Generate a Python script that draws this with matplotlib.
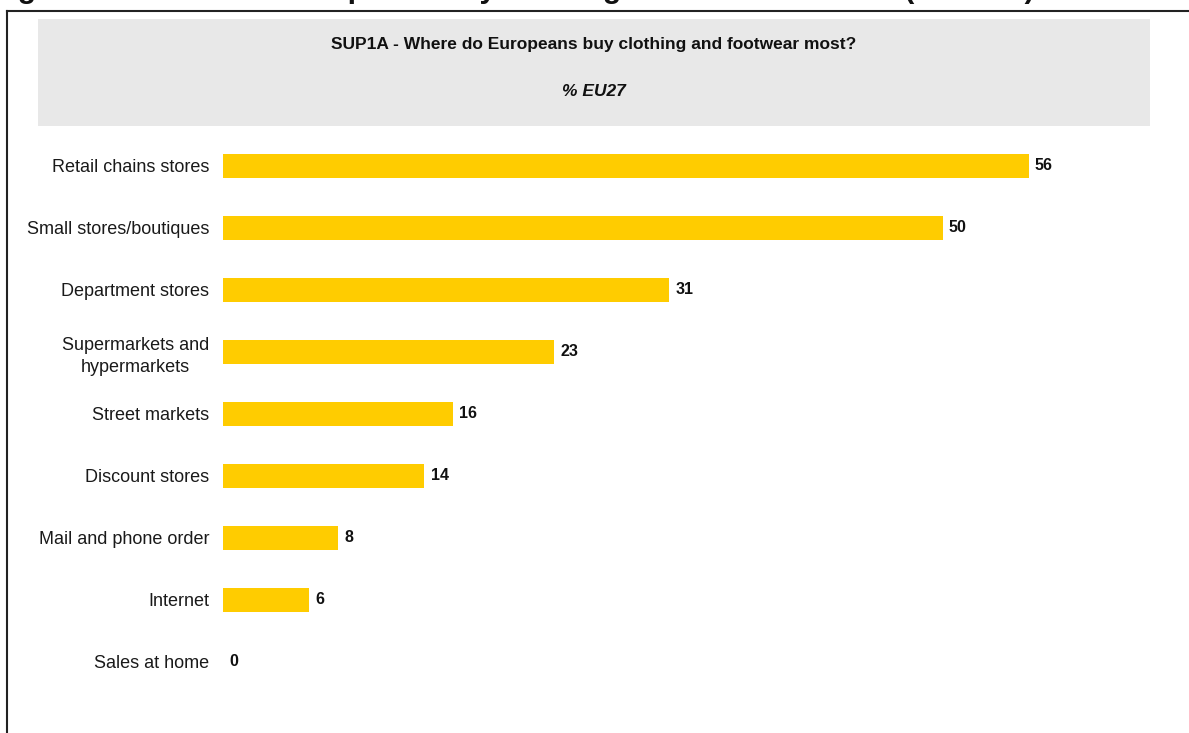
import matplotlib.pyplot as plt
from matplotlib.patches import Rectangle
from matplotlib.lines import Line2D

plt.rcParams['font.family'] = ['Liberation Sans', 'DejaVu Sans']

# SUP1A results, % EU27
categories = ["Retail chains stores", "Small stores/boutiques", "Department stores",
              "Supermarkets and\nhypermarkets", "Street markets", "Discount stores",
              "Mail and phone order", "Internet", "Sales at home"]
values = [56, 50, 31, 23, 16, 14, 8, 6, 0]

W, H = 1189, 733
fig = plt.figure(figsize=(W / 100, H / 100), dpi=100)

def px(x, y):
    # pixel coords (from top-left) to figure fraction
    return x / W, 1 - y / H

# page heading, mostly cut off at the top edge
hx, hy = px(-9, -2)
fig.text(hx, hy, "Figure 1 - Where do Europeans buy clothing and footwear most (% EU27)",
         fontsize=21.6, fontweight='bold', va='baseline', ha='left', color='#111111')

# outer frame (top and left edges)
fig.add_artist(Line2D([7 / W, 1.0], [1 - 11 / H, 1 - 11 / H], transform=fig.transFigure,
                      color='#222222', lw=1.5))
fig.add_artist(Line2D([7 / W, 7 / W], [1 - 11 / H, 0.0], transform=fig.transFigure,
                      color='#222222', lw=1.5))

# grey title box
bx, by = px(38, 126)
fig.add_artist(Rectangle((bx, by), (1150 - 38) / W, (126 - 19) / H,
                         transform=fig.transFigure, facecolor='#e8e8e8', edgecolor='none'))
tx, ty = px(594, 45)
fig.text(tx, ty, "SUP1A - Where do Europeans buy clothing and footwear most?",
         fontsize=12.5, fontweight='bold', ha='center', va='center', color='#111111')
tx, ty = px(594, 92)
fig.text(tx, ty, "% EU27", fontsize=12.5, fontweight='bold', fontstyle='italic',
         ha='center', va='center', color='#111111')

# bar chart area
scale = 14.39  # px per percentage point
ax_left, ax_top, ax_bottom = 223, 135, 693
ax = fig.add_axes([ax_left / W, 1 - ax_bottom / H, 60 * scale / W, (ax_bottom - ax_top) / H])
ax.set_facecolor('none')

pos = list(range(len(categories)))
ax.barh(pos, values, height=0.40, color='#ffcc00', edgecolor='none')
for p, v in zip(pos, values):
    ax.text(v + 0.42, p, f"{v}", fontsize=11.5, fontweight='bold',
            va='center', ha='left', color='#111111')

ax.set_xlim(0, 60)
ax.set_ylim(len(categories) - 0.5, -0.5)
ax.set_yticks(pos)
ax.set_yticklabels(categories, fontsize=13, color='#1a1a1a')
for lbl in ax.get_yticklabels():
    lbl.set_multialignment('center')
    lbl.set_linespacing(1.35)
ax.tick_params(axis='y', length=0, pad=10)
ax.set_xticks([])
for s in ax.spines.values():
    s.set_visible(False)

fig.savefig("out.png", dpi=100)
